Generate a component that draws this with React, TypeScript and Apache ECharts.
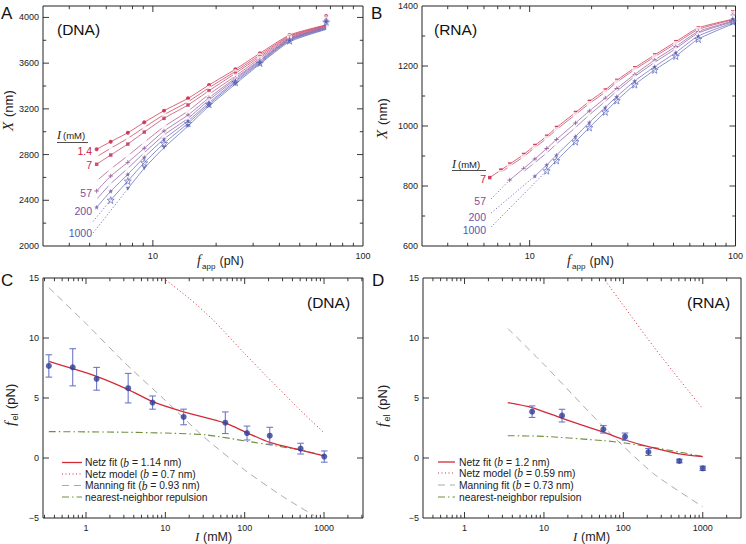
import React, { useEffect, useRef } from 'react';
import * as echarts from 'echarts';

// ---------------- Panel A (DNA) : extension X (nm) vs f_app (pN) ----------------
const forceA = [5.4, 6.3, 7.6, 9.1, 11.3, 14.7, 18.5, 24.7, 32.3, 44.7, 66.8];
const extA_1_4 = [2846, 2913, 2991, 3082, 3184, 3292, 3409, 3546, 3686, 3846, 4012];
const extA_3_5 = [2781, 2855, 2942, 3038, 3149, 3262, 3385, 3528, 3671, 3837, 4000];
const extA_7 = [2715, 2796, 2892, 2997, 3117, 3234, 3359, 3511, 3656, 3829, 3992];
const extA_17 = [2569, 2674, 2790, 2907, 3044, 3181, 3327, 3487, 3642, 3820, 3983];
const extA_57 = [2481, 2612, 2732, 2855, 3006, 3146, 3297, 3470, 3627, 3814, 3977];
const extA_107 = [2409, 2545, 2680, 2816, 2971, 3117, 3277, 3458, 3619, 3808, 3971];
const extA_207 = [2339, 2479, 2627, 2776, 2936, 3094, 3254, 3444, 3610, 3802, 3966];
const extA_507 = [null, 2402, 2569, 2729, 2898, 3074, 3240, 3432, 3601, 3796, 3960];
const extA_1007 = [null, null, 2501, 2680, 2860, 3050, 3225, 3417, 3592, 3787, 3954];
const fitEndA = [3935, 3930, 3925, 3920, 3915, 3910, 3905, 3900, 3895];
const dotA_507 = [[5.2, 2215], [6.3, 2402]];
const dotA_1007 = [[5.2, 2115], [6.3, 2310], [7.6, 2501]];
const labelsA = ['1.4', '7', '57', '200', '1000'];

// ---------------- Panel B (RNA) ----------------
const forceB = [6.4, 7.25, 8.0, 9.35, 10.6, 12.1, 13.5, 16.7, 19.5, 23.3, 26.5, 32.4, 40.5, 51.3, 66, 97];
const extB_7 = [828, 853, 873, 905, 935, 966, 995, 1045, 1082, 1120, 1152, 1194, 1237, 1281, 1327, 1381];
const extB_17 = [null, 845, 866, 898, 928, 959, 988, 1038, 1075, 1113, 1146, 1188, 1231, 1275, 1322, 1376];
const extB_57 = [null, null, 820, 858, 890, 925, 955, 1010, 1050, 1093, 1125, 1172, 1220, 1265, 1315, 1370];
const extB_107 = [null, null, null, 848, 878, 910, 940, 995, 1037, 1082, 1116, 1165, 1212, 1258, 1310, 1365];
const extB_207 = [null, null, null, null, 833, 870, 903, 965, 1012, 1062, 1098, 1150, 1198, 1245, 1300, 1358];
const extB_1007 = [null, null, null, null, null, 851, 885, 948, 995, 1047, 1085, 1138, 1187, 1233, 1290, 1348];
const fitEndForceB = 100;
const fitEndB = [1358, 1356, 1352, 1350, 1347, 1344];
const dotB_57 = [[6.5, 757], [8.0, 820]];
const dotB_207 = [[6.5, 710], [10.6, 833]];
const dotB_1007 = [[6.5, 663], [12.1, 851]];
const labelsB = ['7', '57', '200', '1000'];

// ---------------- Panel C (DNA) : f_el vs I ----------------
const ionicC = [0.34, 0.68, 1.36, 3.4, 6.9, 17, 57, 107, 207, 507, 1007];
const felC = [7.67, 7.56, 6.6, 5.82, 4.62, 3.42, 2.94, 2.08, 1.86, 0.78, 0.12];
const errC = [0.93, 1.55, 0.95, 1.23, 0.55, 0.65, 0.9, 0.58, 0.7, 0.45, 0.47];
const netzFitC_I = [0.34, 0.68, 1.36, 3.4, 6.9, 17, 57, 107, 207, 507, 1007];
const netzFitC_F = [8.05, 7.44, 6.8, 5.7, 4.7, 3.85, 2.9, 2.1, 1.3, 0.65, 0.18];
const netzModelC_I = [9.4, 20, 40, 100, 190, 500, 1000];
const netzModelC_F = [15, 13.3, 11.5, 8.7, 6.8, 4.0, 2.1];
const manningC_I = [0.34, 1, 3, 10, 30, 100, 300, 750];
const manningC_F = [14.2, 11.2, 8.0, 4.8, 1.8, -1.0, -3.2, -4.8];
const nnC_I = [0.34, 1, 3, 10, 33, 106, 228, 500, 1000];
const nnC_F = [2.2, 2.18, 2.15, 2.08, 1.92, 1.4, 1.05, 0.67, 0.2];
const legendC = ['1.14', '0.7', '0.93'];

// ---------------- Panel D (RNA) ----------------
const ionicD = [7.1, 16.9, 56, 105, 207, 507, 1000];
const felD = [3.86, 3.53, 2.39, 1.78, 0.5, -0.25, -0.86];
const errD = [0.48, 0.53, 0.31, 0.3, 0.29, 0.15, 0.18];
const netzFitD_I = [3.5, 7.1, 17, 56, 105, 207, 507, 1000];
const netzFitD_F = [4.62, 4.2, 3.3, 2.15, 1.5, 0.95, 0.35, 0.12];
const netzModelD_I = [56, 120, 239, 500, 1000];
const netzModelD_F = [15, 12.0, 9.3, 6.6, 4.1];
const manningD_I = [3.5, 10, 56, 239, 1000];
const manningD_F = [10.8, 7.8, 2.6, -1.3, -4.06];
const nnD_I = [3.5, 10, 56, 105, 207, 507, 1000];
const nnD_F = [1.86, 1.8, 1.45, 1.25, 0.95, 0.5, 0.12];
const legendD = ['1.2', '0.59', '0.73'];

// ---------------- tick values ----------------
const xMinorAB = [4, 5, 6, 7, 8, 9, 20, 30, 40, 50, 60, 70, 80, 90];
const xMajorAB = [10];
const yMajorA = [2400, 2800, 3200, 3600, 4000];
const yMinorA = [2200, 2600, 3000, 3400, 3800];
const yMajorB = [800, 1000, 1200];
const yMinorB = [700, 900, 1100, 1300];
const xMinorCD = [0.3, 0.4, 0.5, 0.6, 0.7, 0.8, 0.9, 2, 3, 4, 5, 6, 7, 8, 9, 20, 30, 40, 50, 60, 70, 80, 90, 200, 300, 400, 500, 600, 700, 800, 900, 2000, 3000];
const xMajorCD = [1, 10, 100, 1000];
const yMajorCD = [0, 5, 10];

// ---------------- layout / style ----------------
const GA = { left: 43, top: 6, width: 320, height: 240 };
const GB = { left: 422, top: 6, width: 319, height: 240 };
const GC = { left: 43, top: 278, width: 320, height: 240 };
const GD = { left: 423, top: 278, width: 318, height: 240 };
const SANS = '"Liberation Sans", Arial, Helvetica, sans-serif';
const SERIF = '"Liberation Serif", "Times New Roman", serif';
const INK = '#222';
const colA = ['#c8193c', '#c4254a', '#bc2f58', '#a83f78', '#8c4a92', '#7650a0', '#6456aa', '#5459b0', '#4a5cb4'];
const colB = ['#c8193c', '#bc2f58', '#8c4a92', '#7650a0', '#6456aa', '#4a5cb4'];
const PT = '#2e3c96';
const ERR = '#6f78c6';
const RED = '#d42a36';
const GRAY = '#aaaaaa';
const GREEN = '#6f8f3e';

const STAR = 'path://M5,0L6.18,3.38L9.76,3.45L6.9,5.62L7.94,9.05L5,7L2.06,9.05L3.1,5.62L0.24,3.45L3.82,3.38Z';
const PLUS = 'path://M4,0H6V4H10V6H6V10H4V6H0V4H4Z';
const INVTRI = 'path://M0,0L10,0L5,9Z';
const markersA = [
  { s: 'circle', z: 4, open: false },
  { s: 'emptyCircle', z: 4.5, open: true },
  { s: 'rect', z: 3.5, open: false },
  { s: 'emptyRect', z: 5, open: true },
  { s: PLUS, z: 4.5, open: false },
  { s: 'emptyTriangle', z: 5.5, open: true },
  { s: STAR, z: 5, open: false },
  { s: STAR, z: 7, open: true },
  { s: INVTRI, z: 4, open: false },
];
const markersB = [markersA[2], markersA[3], markersA[4], markersA[5], markersA[6], markersA[7]];

const pairs = (xs: number[], ys: (number | null)[]) =>
  xs.map((x, i) => [x, ys[i]]).filter((p) => p[1] !== null && p[1] !== undefined);

function tickData(xMin: number, yMin: number, xMinor: number[], xMajor: number[], yMinor: number[], yMajor: number[], xMax: number) {
  const inX = (v: number) => v > xMin * 1.01 && v < xMax * 0.99;
  return [
    ...xMinor.filter(inX).map((v) => [v, yMin, 0]),
    ...xMajor.filter(inX).map((v) => [v, yMin, 1]),
    ...yMinor.map((v) => [xMin, v, 2]),
    ...yMajor.map((v) => [xMin, v, 3]),
  ];
}

const tickRender = (params: any, api: any) => {
  const cs = params.coordSys;
  const kind = api.value(2);
  const p = api.coord([api.value(0), api.value(1)]);
  const len = kind === 1 || kind === 3 ? 6 : 3.2;
  const st = { stroke: INK, lineWidth: 0.9 };
  if (kind < 2) {
    const x = p[0];
    const yb = cs.y + cs.height;
    return {
      type: 'group',
      children: [
        { type: 'line', shape: { x1: x, y1: yb, x2: x, y2: yb - len }, style: st },
        { type: 'line', shape: { x1: x, y1: cs.y, x2: x, y2: cs.y + len }, style: st },
      ],
    };
  }
  const y = p[1];
  const xr = cs.x + cs.width;
  return {
    type: 'group',
    children: [
      { type: 'line', shape: { x1: cs.x, y1: y, x2: cs.x + len, y2: y }, style: st },
      { type: 'line', shape: { x1: xr, y1: y, x2: xr - len, y2: y }, style: st },
    ],
  };
};

const errRender = (params: any, api: any) => {
  const x = api.value(0), y = api.value(1), e = api.value(2);
  const t = api.coord([x, y + e]);
  const b = api.coord([x, y - e]);
  const w = 3.3;
  const st = { stroke: ERR, lineWidth: 1.1 };
  return {
    type: 'group',
    children: [
      { type: 'line', shape: { x1: t[0], y1: t[1], x2: b[0], y2: b[1] }, style: st },
      { type: 'line', shape: { x1: t[0] - w, y1: t[1], x2: t[0] + w, y2: t[1] }, style: st },
      { type: 'line', shape: { x1: b[0] - w, y1: b[1], x2: b[0] + w, y2: b[1] }, style: st },
    ],
  };
};

const logFmt = (v: number) => {
  const l = Math.log10(v);
  return Math.abs(l - Math.round(l)) < 1e-6 ? String(Math.round(v)) : '';
};

function xAx(i: number, min: number, max: number) {
  return {
    type: 'log', logBase: 10, gridIndex: i, min, max,
    axisLine: { show: false }, axisTick: { show: false }, splitLine: { show: false },
    axisLabel: { fontSize: 9, color: INK, margin: 5, fontFamily: SANS, formatter: logFmt },
  };
}
function yAx(i: number, min: number, max: number, interval: number) {
  return {
    type: 'value', gridIndex: i, min, max, interval,
    axisLine: { show: false }, axisTick: { show: false }, splitLine: { show: false },
    axisLabel: {
      fontSize: 9, color: INK, margin: 4, fontFamily: SANS,
      formatter: (v: number) => {
        if (Math.abs(v / interval - Math.round(v / interval)) > 1e-6) return '';
        return v < 0 ? '\u2212' + Math.abs(v) : String(v);
      },
    },
  };
}

function lineS(g: number, data: any[], color: string, width: number, type: any, opacity = 1, z = 2, smooth: any = false) {
  return {
    type: 'line', xAxisIndex: g, yAxisIndex: g, data, symbol: 'none', showSymbol: false, silent: true,
    lineStyle: { color, width, type, opacity }, z, clip: true, smooth,
  };
}
function scatterS(g: number, data: any[], color: string, m: any) {
  return {
    type: 'scatter', xAxisIndex: g, yAxisIndex: g, data, symbol: m.s, symbolSize: m.z, silent: true, z: 4,
    itemStyle: m.open ? { color: 'rgba(255,255,255,0)', borderColor: color, borderWidth: 0.8 } : { color, borderWidth: 0 },
  };
}

function txt(x: number, y: number, text: string, font: string, fill = INK, align = 'left', va = 'middle') {
  return { type: 'text', x, y, silent: true, style: { text, font, fill, align, verticalAlign: va, textAlign: align, textVerticalAlign: va } };
}

function legendBlock(x0: number, len: number, tx: number, ys: number[], vals: string[]) {
  const rich = {
    n: { fontFamily: SANS, fontSize: 10.3, fill: INK },
    i: { fontFamily: SERIF, fontStyle: 'italic', fontSize: 11.5, fill: INK },
  };
  const styles = [
    { stroke: RED, lineWidth: 1.3, lineDash: null },
    { stroke: RED, lineWidth: 1, lineDash: [1, 2.5] },
    { stroke: GRAY, lineWidth: 1, lineDash: [7, 5] },
    { stroke: GREEN, lineWidth: 1.1, lineDash: [7, 3, 1.5, 3] },
  ];
  const texts = [
    `{n|Netz fit (}{i|b}{n| = ${vals[0]} nm)}`,
    `{n|Netz model (}{i|b}{n| = ${vals[1]} nm)}`,
    `{n|Manning fit (}{i|b}{n| = ${vals[2]} nm)}`,
    `{n|nearest-neighbor repulsion}`,
  ];
  const els: any[] = [];
  ys.forEach((y, k) => {
    els.push({ type: 'line', silent: true, shape: { x1: x0, y1: y, x2: x0 + len, y2: y }, style: styles[k] });
    els.push({ type: 'text', x: tx, y, silent: true, style: { text: texts[k], rich, verticalAlign: 'middle', textVerticalAlign: 'middle' } });
  });
  return els;
}

function buildOption() {
  const extA = [extA_1_4, extA_3_5, extA_7, extA_17, extA_57, extA_107, extA_207, extA_507, extA_1007];
  const extB = [extB_7, extB_17, extB_57, extB_107, extB_207, extB_1007];
  const series: any[] = [];

  // Panel A
  extA.forEach((ys, i) => {
    const last = forceA.length - 1;
    const fit = forceA.map((f, j) => [f, j < last ? ys[j] : fitEndA[i]]).filter((p) => p[1] !== null);
    series.push(lineS(0, fit, colA[i], 0.8, 'solid', 0.85, 2, 0.2));
    series.push(scatterS(0, pairs(forceA, ys), colA[i], markersA[i]));
  });
  series.push(lineS(0, dotA_507, colA[7], 0.9, [1.2, 2], 0.9));
  series.push(lineS(0, dotA_1007, colA[8], 0.9, [1.2, 2], 0.9));

  // Panel B
  extB.forEach((ys, i) => {
    const fx = forceB.slice(0, -1).concat([fitEndForceB]);
    const fy = ys.slice(0, -1).concat([fitEndB[i]]);
    series.push(lineS(1, pairs(fx, fy), colB[i], 0.8, 'solid', 0.85, 2, 0.2));
    series.push(scatterS(1, pairs(forceB, ys), colB[i], markersB[i]));
  });
  series.push(lineS(1, dotB_57, colB[2], 0.9, [1.2, 2], 0.9));
  series.push(lineS(1, dotB_207, colB[4], 0.9, [1.2, 2], 0.9));
  series.push(lineS(1, dotB_1007, colB[5], 0.9, [1.2, 2], 0.9));

  // Panels C, D
  const cd = [
    { g: 2, I: ionicC, F: felC, E: errC, nf: [netzFitC_I, netzFitC_F], nm: [netzModelC_I, netzModelC_F], mf: [manningC_I, manningC_F], nn: [nnC_I, nnC_F] },
    { g: 3, I: ionicD, F: felD, E: errD, nf: [netzFitD_I, netzFitD_F], nm: [netzModelD_I, netzModelD_F], mf: [manningD_I, manningD_F], nn: [nnD_I, nnD_F] },
  ];
  cd.forEach((p) => {
    series.push(lineS(p.g, pairs(p.mf[0], p.mf[1]), GRAY, 1, [7, 5], 1, 1, 0.2));
    series.push(lineS(p.g, pairs(p.nm[0], p.nm[1]), RED, 1, [1, 2.5], 1, 1, 0.2));
    series.push(lineS(p.g, pairs(p.nn[0], p.nn[1]), GREEN, 1.1, [7, 3, 1.5, 3], 1, 1, 0.2));
    series.push(lineS(p.g, pairs(p.nf[0], p.nf[1]), RED, 1.3, 'solid', 1, 2, 0.25));
    series.push({
      type: 'custom', xAxisIndex: p.g, yAxisIndex: p.g, silent: true, z: 3,
      data: p.I.map((x, i) => [x, p.F[i], p.E[i]]), renderItem: errRender, encode: { x: 0, y: 1 },
    });
    series.push({
      type: 'scatter', xAxisIndex: p.g, yAxisIndex: p.g, silent: true, z: 4, symbol: 'circle', symbolSize: 6,
      itemStyle: { color: PT }, data: pairs(p.I, p.F),
    });
  });

  // ticks
  const tickSets = [
    tickData(3, 2000, xMinorAB, xMajorAB, yMinorA, yMajorA, 100),
    tickData(3, 600, xMinorAB, xMajorAB, yMinorB, yMajorB, 100),
    tickData(0.287, -5, xMinorCD, xMajorCD, [], yMajorCD, 3100),
    tickData(0.3, -5, xMinorCD, xMajorCD, [], yMajorCD, 3030),
  ];
  tickSets.forEach((d, g) => {
    series.push({ type: 'custom', xAxisIndex: g, yAxisIndex: g, silent: true, z: 5, data: d, renderItem: tickRender, encode: { x: 0, y: 1 } });
  });

  const sansF = (s: number) => `${s}px ${SANS}`;
  const italF = (s: number) => `italic ${s}px ${SERIF}`;
  const g: any[] = [];
  // panel letters & names
  g.push(txt(1, 13, 'A', sansF(17), '#111'));
  g.push(txt(371, 13, 'B', sansF(17), '#111'));
  g.push(txt(1, 280, 'C', sansF(17), '#111'));
  g.push(txt(372, 280, 'D', sansF(17), '#111'));
  g.push(txt(57, 29, '(DNA)', sansF(15.5), '#111'));
  g.push(txt(434, 29, '(RNA)', sansF(15.5), '#111'));
  g.push(txt(307, 302, '(DNA)', sansF(15.5), '#111'));
  g.push(txt(687, 302, '(RNA)', sansF(15.5), '#111'));
  // x titles A,B
  [0, 370].forEach((dx) => {
    g.push(txt(197 + dx, 260, 'f', italF(14)));
    g.push(txt(202 + dx, 266, 'app', sansF(8)));
    g.push(txt(219.5 + dx, 260.5, '(pN)', sansF(12.5)));
  });
  // x titles C,D
  g.push(txt(195, 536.5, 'I', italF(13)));
  g.push(txt(203, 536.5, '(mM)', sansF(12.5)));
  g.push(txt(573, 536.5, 'I', italF(13)));
  g.push(txt(581, 536.5, '(mM)', sansF(12.5)));
  // y titles
  const yTitleX = (x: number, y: number) => ({
    type: 'group', x, y, rotation: Math.PI / 2, silent: true,
    children: [txt(0, 0, 'X', italF(15)), txt(14, 0.5, '(nm)', sansF(13))],
  });
  const yTitleF = (x: number, y: number) => ({
    type: 'group', x, y, rotation: Math.PI / 2, silent: true,
    children: [txt(0, 0, 'f', italF(15)), txt(5.5, 4.5, 'el', sansF(9)), txt(17, 0.5, '(pN)', sansF(13))],
  });
  g.push(yTitleX(7.5, 131));
  g.push(yTitleX(382, 139));
  g.push(yTitleF(10, 426));
  g.push(yTitleF(382, 427));
  // I (mM) headers
  g.push(txt(57, 135, 'I', italF(12)));
  g.push(txt(63, 135.5, '(mM)', sansF(9.5)));
  g.push({ type: 'line', silent: true, shape: { x1: 57, y1: 142.5, x2: 88, y2: 142.5 }, style: { stroke: INK, lineWidth: 0.8 } });
  g.push(txt(452, 163.5, 'I', italF(12)));
  g.push(txt(458, 164, '(mM)', sansF(9.5)));
  g.push({ type: 'line', silent: true, shape: { x1: 452, y1: 170.5, x2: 486, y2: 170.5 }, style: { stroke: INK, lineWidth: 0.8 } });
  // I value labels
  const labAy = [151, 164.5, 193, 211, 233];
  const labAc = [colA[0], colA[2], colA[4], colA[6], colA[8]];
  labelsA.forEach((t, i) => g.push(txt(92, labAy[i], t, sansF(10.5), labAc[i], 'right')));
  const labBy = [179, 201, 217, 229.5];
  const labBc = [colB[0], colB[2], colB[4], colB[5]];
  labelsB.forEach((t, i) => g.push(txt(486, labBy[i], t, sansF(10.5), labBc[i], 'right')));
  // legends
  g.push(...legendBlock(62, 20, 85, [462.5, 474, 485.5, 497], legendC));
  g.push(...legendBlock(438, 17, 459, [462, 473, 485, 497], legendD));

  return {
    animation: false,
    backgroundColor: '#fff',
    textStyle: { fontFamily: SANS },
    grid: [GA, GB, GC, GD].map((r) => ({ ...r, show: true, borderColor: INK, borderWidth: 1, backgroundColor: 'transparent', containLabel: false })),
    xAxis: [xAx(0, 3, 100), xAx(1, 3, 100), xAx(2, 0.287, 3100), xAx(3, 0.3, 3030)],
    yAxis: [yAx(0, 2000, 4100, 400), yAx(1, 600, 1400, 200), yAx(2, -5, 15, 5), yAx(3, -5, 15, 5)],
    series,
    graphic: { elements: g },
  };
}

export default function App() {
  const ref = useRef<HTMLDivElement>(null);
  useEffect(() => {
    document.body.style.margin = '0';
    const chart = echarts.init(ref.current as HTMLDivElement, null, { renderer: 'svg' });
    chart.setOption(buildOption() as any);
    return () => chart.dispose();
  }, []);
  return <div ref={ref} style={{ position: 'absolute', left: 0, top: 0, width: 746, height: 544, background: '#fff' }} />;
}
